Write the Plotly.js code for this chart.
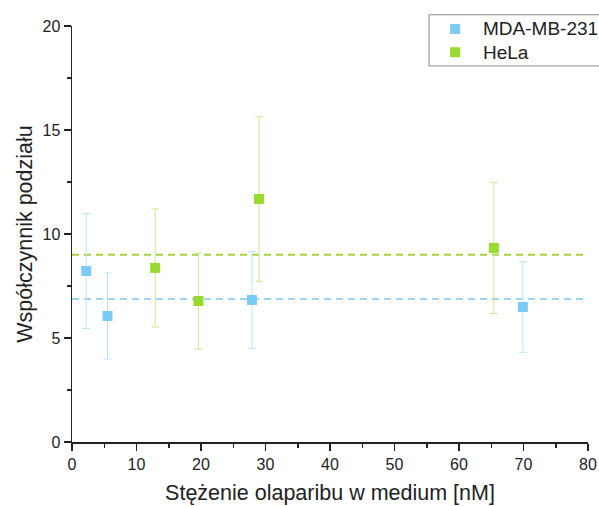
<!DOCTYPE html>
<html>
<head>
<meta charset="utf-8">
<script src="https://cdn.plot.ly/plotly-3.0.1.min.js"></script>
<style>
  html, body { margin: 0; padding: 0; background: #ffffff; }
  #chart { width: 599px; height: 506px; }
</style>
</head>
<body>
<div id="chart"></div>
<script>
// Olaparib concentration [nM] and partition coefficient, mean ± SD
const mdaX = [2.2, 5.5, 27.9, 69.9];
const mdaY = [8.22, 6.06, 6.83, 6.49];
const mdaErr = [2.76, 2.07, 2.33, 2.18];

const helaX = [12.9, 19.6, 29.0, 65.4];
const helaY = [8.37, 6.78, 11.68, 9.33];
const helaErr = [2.84, 2.31, 3.95, 3.15];

// Horizontal reference levels (series averages) across the x range
const levelX = [0, 80];
const mdaLevel = [6.88, 6.88];
const helaLevel = [9.0, 9.0];

const seriesNames = ['MDA-MB-231', 'HeLa'];
const xTickVals = [0, 10, 20, 30, 40, 50, 60, 70, 80];
const yTickVals = [0, 5, 10, 15, 20];

const blue = '#7ccbf6';
const green = '#97d92c';
const font = 'Liberation Sans, Arial, sans-serif';

const traces = [
  {
    x: levelX, y: helaLevel, mode: 'lines', showlegend: false, hoverinfo: 'skip',
    line: { color: '#a9d23f', width: 2, dash: '7px,5px' }
  },
  {
    x: levelX, y: mdaLevel, mode: 'lines', showlegend: false, hoverinfo: 'skip',
    line: { color: '#9dd6f3', width: 2, dash: '7px,5px' }
  },
  {
    x: mdaX, y: mdaY, name: seriesNames[0], mode: 'markers', type: 'scatter',
    marker: { symbol: 'square', size: 10, color: blue },
    error_y: { type: 'data', array: mdaErr, visible: true, color: '#b9e3f7', thickness: 1, width: 4 }
  },
  {
    x: helaX, y: helaY, name: seriesNames[1], mode: 'markers', type: 'scatter',
    marker: { symbol: 'square', size: 10, color: green },
    error_y: { type: 'data', array: helaErr, visible: true, color: '#cde88e', thickness: 1, width: 4 }
  }
];

// Compact legend box in the top-right corner (paper coordinates)
const legendBox = { x0: 0.692, x1: 1.04, y0: 0.904, y1: 1.027 };
const legendRowsY = [0.993, 0.937];
const legendSymbolX = 0.7425;
const legendTextX = 0.7925;
const legendColors = [blue, green];

const shapes = [
  {
    type: 'rect', xref: 'paper', yref: 'paper',
    x0: legendBox.x0, x1: legendBox.x1, y0: legendBox.y0, y1: legendBox.y1,
    line: { color: '#8a8a8a', width: 1 }, fillcolor: '#ffffff'
  }
];
const annotations = [];
seriesNames.forEach(function (name, i) {
  shapes.push({
    type: 'rect', xref: 'paper', yref: 'paper',
    xsizemode: 'pixel', ysizemode: 'pixel',
    xanchor: legendSymbolX, yanchor: legendRowsY[i],
    x0: -5, x1: 5, y0: -5, y1: 5,
    line: { width: 0 }, fillcolor: legendColors[i]
  });
  annotations.push({
    xref: 'paper', yref: 'paper', x: legendTextX, y: legendRowsY[i],
    xanchor: 'left', yanchor: 'middle', showarrow: false,
    text: name, font: { family: font, size: 19, color: '#222222' }
  });
});

const axisCommon = {
  showgrid: false, zeroline: false, showline: true,
  linecolor: '#222222', linewidth: 1.5,
  ticks: 'outside', ticklen: 7, tickwidth: 1.5, tickcolor: '#222222',
  tickfont: { family: font, size: 16, color: '#222222' },
  automargin: false
};

const layout = {
  width: 599, height: 506,
  margin: { l: 72, r: 11, t: 26, b: 64, autoexpand: false },
  paper_bgcolor: '#ffffff', plot_bgcolor: '#ffffff',
  font: { family: font, color: '#222222' },
  showlegend: false,
  shapes: shapes,
  annotations: annotations,
  xaxis: Object.assign({}, axisCommon, {
    range: [0, 80], tickvals: xTickVals,
    minor: { dtick: 5, tick0: 0, ticks: 'outside', ticklen: 4, tickwidth: 1.5, tickcolor: '#222222' },
    title: { text: 'Stężenie olaparibu w medium [nM]', font: { family: font, size: 21.5, color: '#222222' }, standoff: 13 }
  }),
  yaxis: Object.assign({}, axisCommon, {
    range: [0, 20], tickvals: yTickVals,
    minor: { dtick: 2.5, tick0: 0, ticks: 'outside', ticklen: 4, tickwidth: 1.5, tickcolor: '#222222' },
    title: { text: 'Współczynnik podziału', font: { family: font, size: 21.5, color: '#222222' }, standoff: 4 }
  })
};

Plotly.newPlot('chart', traces, layout, { displayModeBar: false, staticPlot: true });
</script>
</body>
</html>
